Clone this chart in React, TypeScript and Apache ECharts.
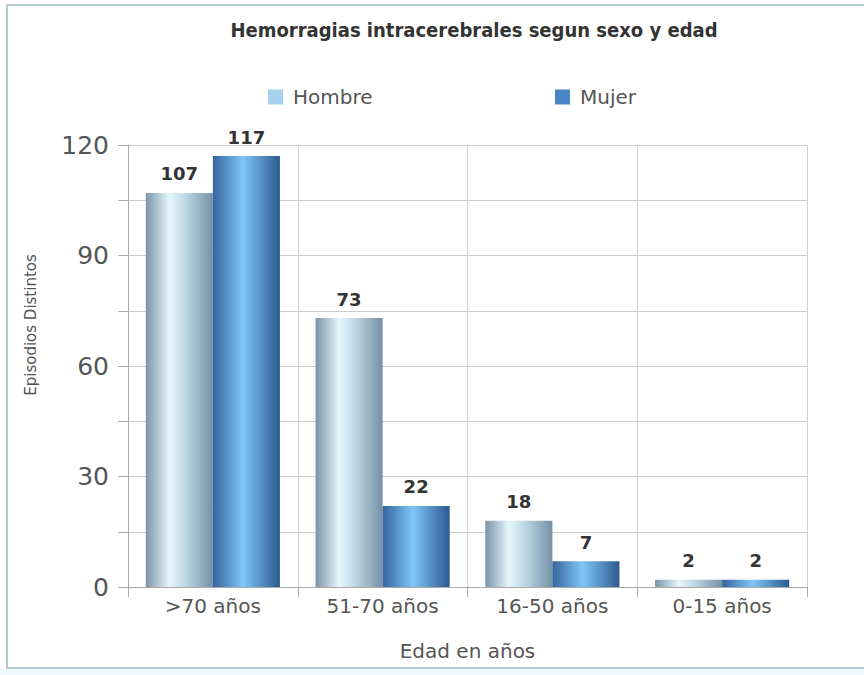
import React, { useEffect, useRef } from "react";
import * as echarts from "echarts";

const categories = [">70 años", "51-70 años", "16-50 años", "0-15 años"];
const hombre = [107, 73, 18, 2];
const mujer = [117, 22, 7, 2];
const titleText = "Hemorragias intracerebrales segun sexo y edad";
const yAxisName = "Episodios Distintos";
const xAxisName = "Edad en años";

export default function App() {
  const ref = useRef<HTMLDivElement>(null);
  useEffect(() => {
    if (!ref.current) return;
    const chart = echarts.init(ref.current, undefined, { renderer: "svg" });
    const hombreGrad = new echarts.graphic.LinearGradient(0, 0, 1, 0, [
      { offset: 0, color: "#7893a9" },
      { offset: 0.35, color: "#e6f7fb" },
      { offset: 0.6, color: "#bcd5e2" },
      { offset: 1, color: "#7690a8" },
    ]);
    const mujerGrad = new echarts.graphic.LinearGradient(0, 0, 1, 0, [
      { offset: 0, color: "#35659e" },
      { offset: 0.45, color: "#7fc6f6" },
      { offset: 1, color: "#2c5a90" },
    ]);
    const labelStyle = {
      show: true,
      position: "top" as const,
      distance: 10,
      color: "#333",
      fontSize: 18,
      fontWeight: "bold" as const,
      fontFamily: "DejaVu Sans",
    };
    const legendText = { fontSize: 20, color: "#555", fontFamily: "DejaVu Sans", padding: [0, 0, 0, 5] };
    chart.setOption({
      animation: false,
      backgroundColor: "#ffffff",
      title: {
        text: titleText,
        left: 469,
        top: 15,
        textAlign: "center",
        textStyle: { fontSize: 20, fontWeight: "bold", color: "#333", fontFamily: "DejaVu Sans Condensed" },
      },
      legend: [
        {
          data: [{ name: "Hombre", itemStyle: { color: "#a6d2ee" } }],
          left: 263,
          top: 82,
          itemWidth: 15,
          itemHeight: 15,
          icon: "rect",
          textStyle: legendText,
        },
        {
          data: [{ name: "Mujer", itemStyle: { color: "#4a86c6" } }],
          left: 550,
          top: 82,
          itemWidth: 15,
          itemHeight: 15,
          icon: "rect",
          textStyle: legendText,
        },
      ],
      grid: { left: 128, right: 57, top: 145, bottom: 88 },
      graphic: [
        {
          type: "rect",
          shape: { x: 7, y: 5, width: 900, height: 663 },
          style: { fill: "none", stroke: "#9fb9c2", lineWidth: 1.5 },
          silent: true,
        },
        {
          type: "rect",
          shape: { x: 0, y: 669, width: 864, height: 6 },
          style: { fill: "#eef9fb" },
          silent: true,
        },
        {
          type: "text",
          x: 31,
          y: 325,
          rotation: Math.PI / 2,
          silent: true,
          style: {
            text: yAxisName,
            fontSize: 15,
            fill: "#555",
            fontFamily: "DejaVu Sans",
            align: "center",
            verticalAlign: "middle",
          },
        },
      ],
      xAxis: {
        type: "category",
        data: categories,
        name: xAxisName,
        nameLocation: "middle",
        nameGap: 54,
        nameTextStyle: { fontSize: 20, color: "#555", fontFamily: "DejaVu Sans" },
        axisLine: { show: true, lineStyle: { color: "#aaa" } },
        axisTick: { show: true, length: 10, lineStyle: { color: "#aaa" } },
        axisLabel: { fontSize: 20, color: "#555", margin: 9, fontFamily: "DejaVu Sans" },
        splitLine: { show: true, lineStyle: { color: "#d0d0d0" } },
      },
      yAxis: {
        type: "value",
        min: 0,
        max: 120,
        interval: 15,
        axisLine: { show: true, lineStyle: { color: "#aaa" } },
        axisTick: { show: true, length: 10, lineStyle: { color: "#aaa" } },
        axisLabel: {
          fontSize: 25,
          color: "#555",
          margin: 19,
          fontFamily: "DejaVu Sans",
          formatter: (v: number) => (v % 30 === 0 ? String(v) : ""),
        },
        splitLine: { show: true, lineStyle: { color: "#cccccc" } },
      },
      series: [
        {
          name: "Hombre",
          type: "bar",
          data: hombre,
          barGap: "0%",
          barCategoryGap: "21%",
          itemStyle: { color: hombreGrad },
          label: labelStyle,
        },
        {
          name: "Mujer",
          type: "bar",
          data: mujer,
          barGap: "0%",
          barCategoryGap: "21%",
          itemStyle: { color: mujerGrad },
          label: labelStyle,
        },
      ],
    });
    return () => chart.dispose();
  }, []);
  return (
    <div
      ref={ref}
      style={{ position: "absolute", left: 0, top: 0, width: 864, height: 675 }}
    />
  );
}
